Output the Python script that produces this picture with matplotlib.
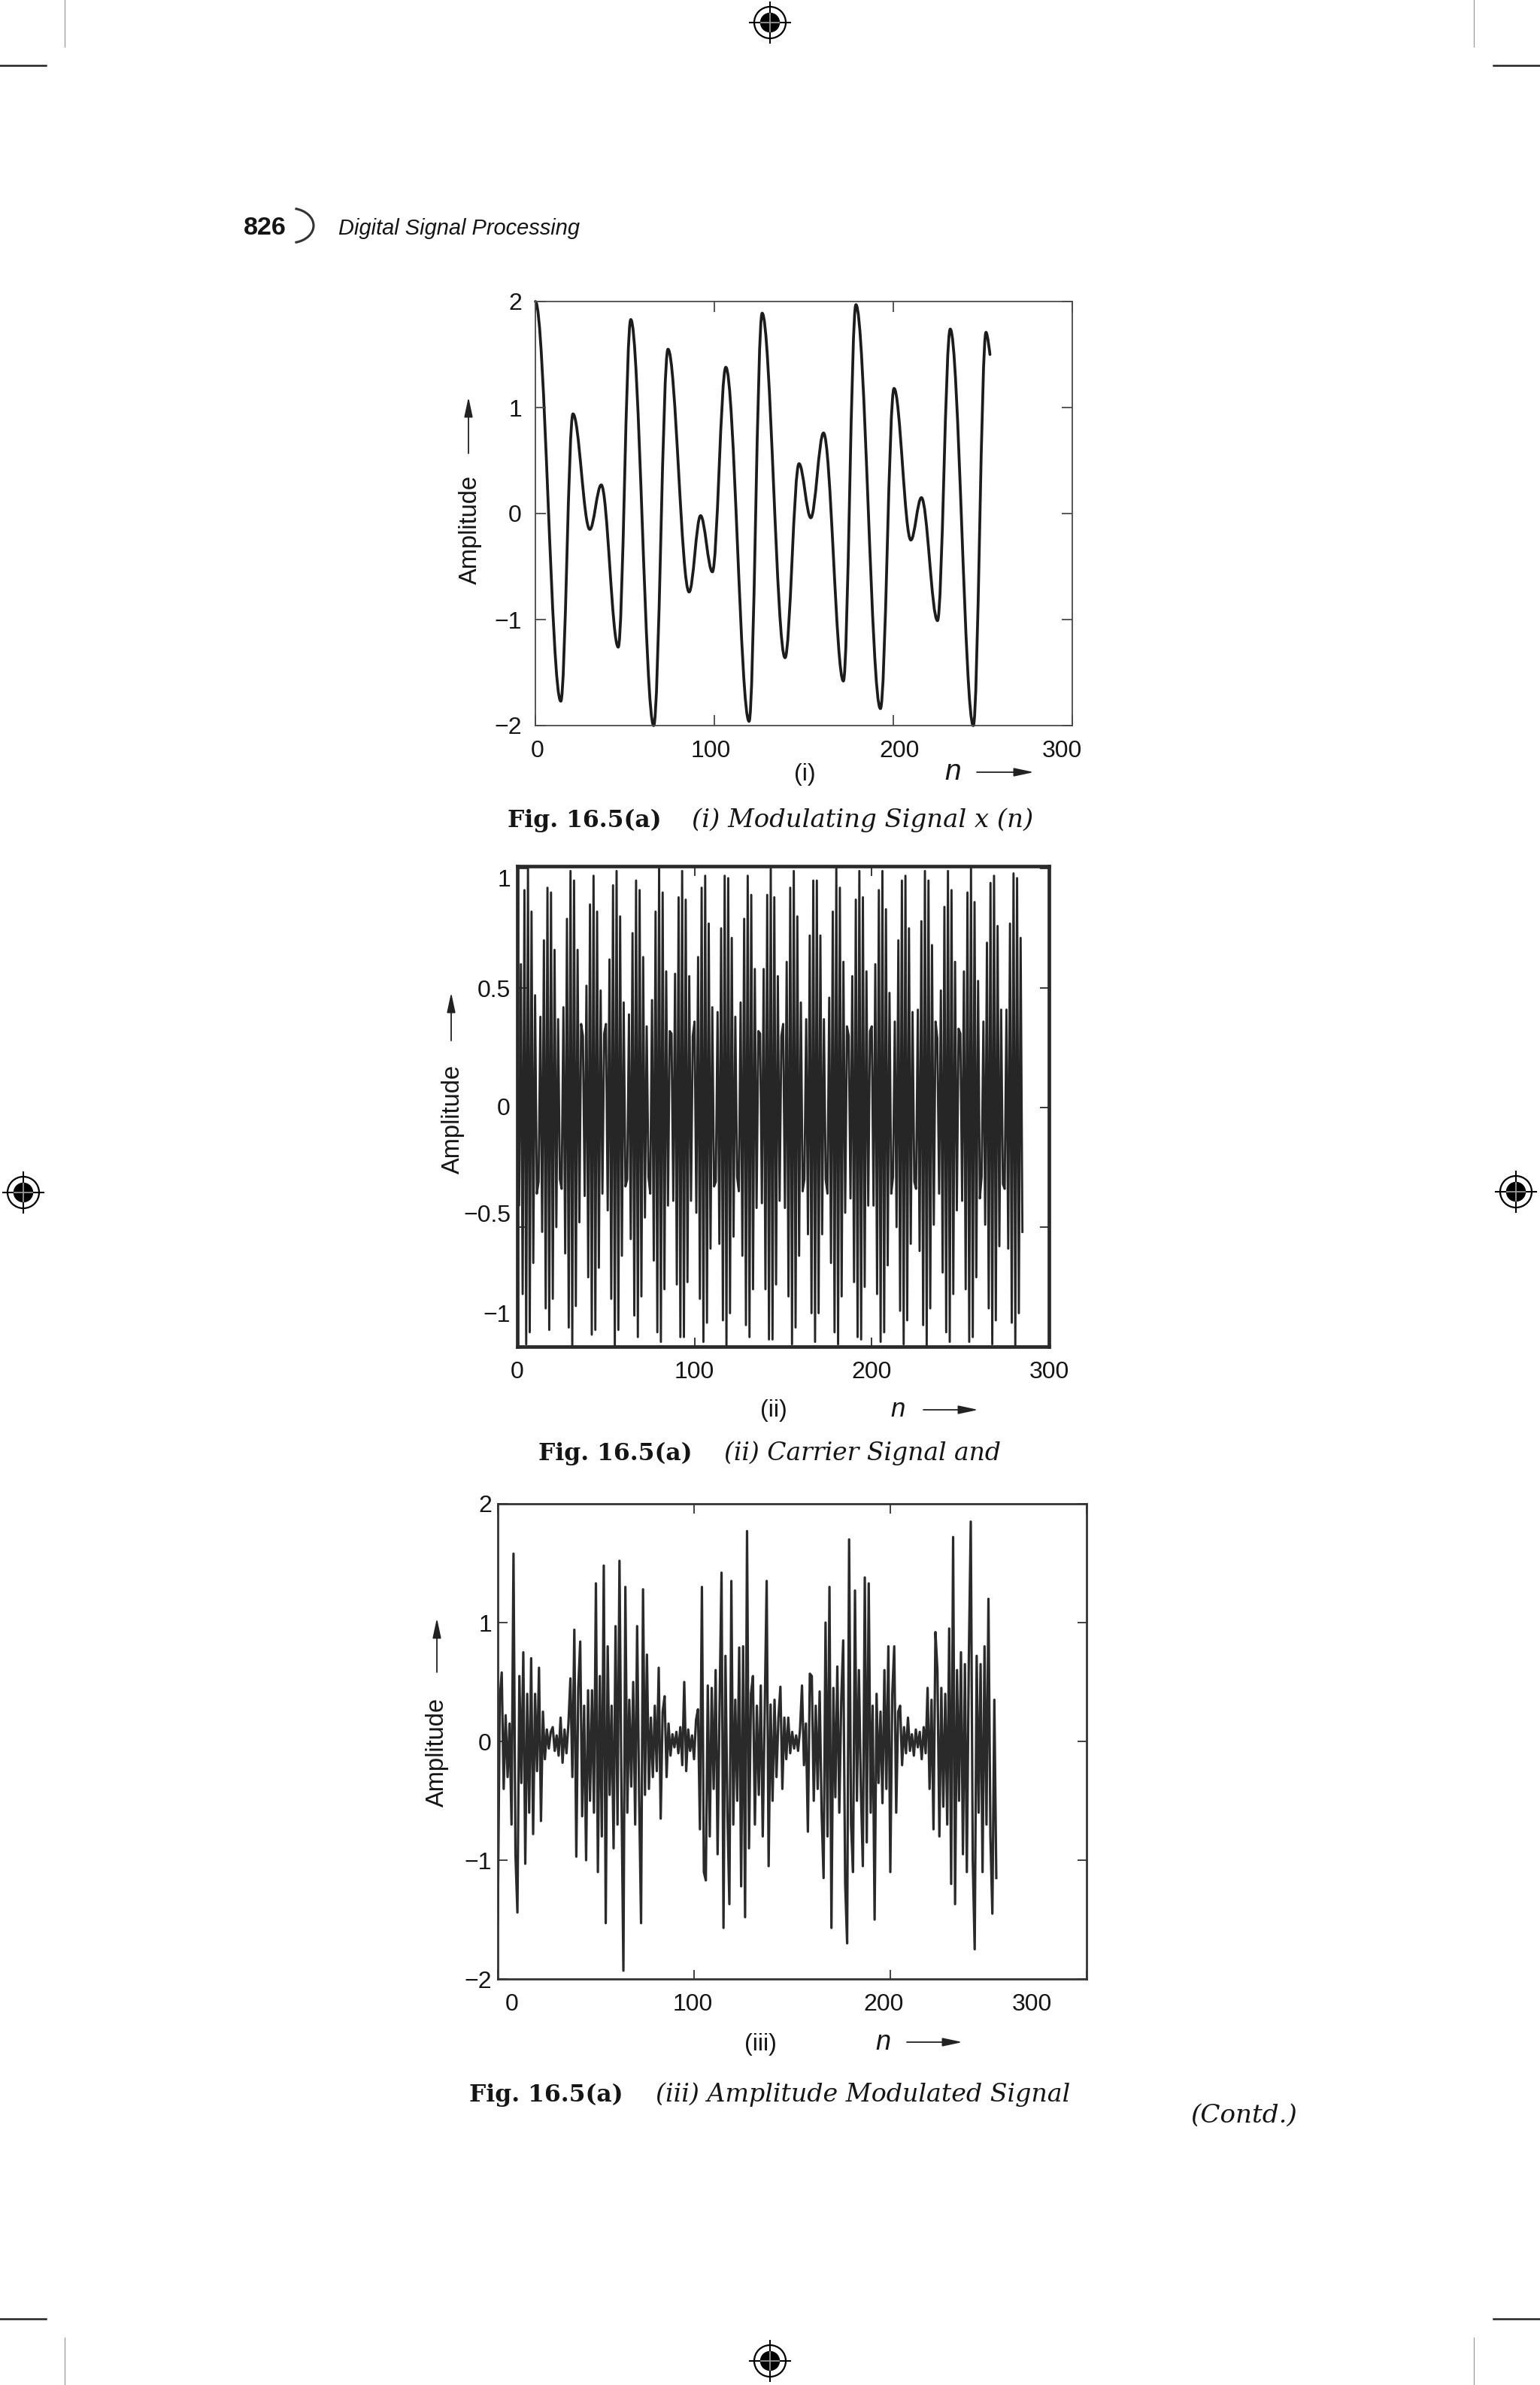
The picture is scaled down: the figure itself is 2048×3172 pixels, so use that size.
import numpy as np
import matplotlib
matplotlib.use("Agg")
import matplotlib.pyplot as plt
from matplotlib.path import Path
from matplotlib.patches import PathPatch, Circle, Arc, FancyArrowPatch
from matplotlib.lines import Line2D
from matplotlib.transforms import ScaledTranslation

plt.rcParams['font.family'] = ['Liberation Sans', 'DejaVu Sans']

W, H = 2048, 3172
DPI = 100

# ------------------------------------------------------------------ data
# (i) modulating signal: extrema (n, amplitude)
mod_ext_n = [0, 14.2, 21.0, 30.4, 36.8, 46.3, 53.3, 66.1, 74.1, 85.9, 92.3, 98.9,
             106.4, 119.4, 126.7, 139.5, 147.3, 153.9, 161.0, 172.1, 179.1, 192.8,
             200.4, 209.8, 215.7, 224.7, 231.8, 244.7, 251.8, 254.0]
mod_ext_amp = [2.0, -1.77, 0.94, -0.15, 0.27, -1.26, 1.83, -2.0, 1.55, -0.74, -0.02, -0.55,
               1.38, -1.96, 1.89, -1.36, 0.47, -0.04, 0.76, -1.58, 1.97, -1.84,
               1.18, -0.25, 0.15, -1.01, 1.74, -2.0, 1.71, 1.50]

# (ii) carrier signal samples, n = 0..285
carrier = [
    0.33, -0.41, 0.60, -0.78, 0.91, -0.99, 1.00, -0.94, 0.82, -0.65, 0.47, -0.36,
    -0.31, 0.38, -0.52, 0.70, -0.84, 0.92, -0.93, 0.90, -0.80, 0.66, -0.50, 0.37, -0.30,
    -0.34, 0.42, -0.61, 0.79, -0.92, 0.99, -1.00, 0.95, -0.83, 0.66, -0.48, 0.35,
    0.30, -0.37, 0.51, -0.71, 0.85, -0.95, 0.97, -0.93, 0.82, -0.67, 0.49, -0.36, 0.31,
    0.35, -0.43, 0.62, -0.80, 0.93, -1.00, 0.99, -0.93, 0.80, -0.62, 0.44, -0.33,
    -0.30, 0.39, -0.55, 0.73, -0.87, 0.95, -0.96, 0.91, -0.79, 0.63, -0.46, 0.34, -0.29,
    -0.36, 0.45, -0.64, 0.82, -0.94, 1.00, -0.98, 0.90, -0.76, 0.57, -0.41, 0.32,
    0.31, -0.39, 0.56, -0.74, 0.88, -0.96, 0.99, -0.96, 0.87, -0.73, 0.55, -0.39, 0.30,
    0.36, -0.44, 0.63, -0.80, 0.92, -0.98, 0.97, -0.90, 0.77, -0.59, 0.42, -0.33,
    -0.31, 0.40, -0.57, 0.75, -0.89, 0.97, -1.00, 0.96, -0.86, 0.71, -0.54, 0.38, -0.29,
    -0.35, 0.44, -0.62, 0.79, -0.91, 0.97, -0.96, 0.89, -0.76, 0.58, -0.42, 0.32,
    0.31, -0.40, 0.58, -0.76, 0.89, -0.97, 1.00, -0.97, 0.88, -0.74, 0.55, -0.39, 0.30,
    0.35, -0.42, 0.61, -0.79, 0.92, -0.99, 0.99, -0.92, 0.80, -0.62, 0.44, -0.35,
    -0.30, 0.37, -0.53, 0.72, -0.86, 0.95, -0.98, 0.95, -0.86, 0.72, -0.53, 0.37, -0.30,
    -0.36, 0.46, -0.65, 0.82, -0.94, 1.00, -0.99, 0.92, -0.79, 0.61, -0.44, 0.34,
    0.30, -0.38, 0.55, -0.73, 0.87, -0.96, 0.99, -0.97, 0.88, -0.75, 0.57, -0.41, 0.32,
    0.34, -0.41, 0.60, -0.78, 0.91, -0.98, 0.99, -0.94, 0.83, -0.66, 0.48, -0.36,
    -0.29, 0.36, -0.50, 0.70, -0.85, 0.95, -0.99, 0.97, -0.89, 0.75, -0.57, 0.40, -0.31,
    -0.34, 0.41, -0.60, 0.78, -0.91, 0.99, -1.00, 0.95, -0.84, 0.68, -0.49, 0.36,
    0.29, -0.36, 0.49, -0.69, 0.84, -0.94, 0.99, -0.98, 0.91, -0.78, 0.61, -0.43, 0.33,
    0.31, -0.39, 0.57, -0.76, 0.90, -0.98, 1.00, -0.96, 0.86, -0.71, 0.53, -0.38,
    -0.29, 0.36, -0.49, 0.69, -0.84, 0.94, -0.99, 0.97, -0.89, 0.76, -0.58, 0.41, -0.32,
    -0.34, 0.41, -0.59, 0.77, -0.90, 0.98, -1.00, 0.96, -0.86, 0.71, -0.52,
]

# (iii) amplitude modulated signal samples, n = 0..254
am_signal = [
    -1.50, 0.35, 0.58, -0.40, 0.22, -0.30, 0.15, -0.70, 1.58, -0.95, -1.44, 0.55, -0.35, 0.75, -1.03, 0.40,
    -0.60, 0.70, -0.78, 0.40, -0.25, 0.62, -0.67, 0.25, -0.15, 0.10, -0.06, 0.08, 0.12, -0.08, 0.05, -0.12,
    0.20, -0.18, 0.10, -0.10, 0.15, 0.53, -0.30, 0.94, -0.97, 0.45, 0.84, -0.63, 0.30, -1.00, 0.43, -0.50,
    0.43, -0.60, 1.33, -1.10, 0.55, -0.80, 1.48, -1.53, 0.80, -0.45, 0.30, -0.90, 0.97, -0.70, 1.52, -0.40,
    -1.93, 1.30, -0.60, 0.35, -0.38, 0.50, -0.70, 0.97, -0.45, -1.53, 1.28, -0.45, 0.73, -0.40, 0.20, -0.30,
    0.30, -0.25, 0.62, -0.65, 0.25, 0.38, -0.30, 0.15, -0.12, 0.06, -0.05, 0.08, -0.10, 0.12, -0.20, 0.50,
    -0.25, 0.10, -0.08, 0.05, -0.15, 0.18, 0.27, -0.74, 1.30, -1.10, -1.17, 0.47, -0.80, 0.45, -0.40, 0.60,
    -0.95, 0.30, 1.42, -1.57, 0.72, -0.60, -1.37, 1.35, -0.70, 0.35, -0.50, 0.79, -1.22, 0.80, -1.48, 1.77,
    -0.90, 0.40, 0.55, -0.70, 0.30, -0.45, 0.47, -0.80, 0.25, 1.35, -1.05, 0.31, -0.50, 0.35, -0.30, 0.20,
    0.46, -0.40, 0.20, -0.15, 0.20, -0.10, 0.08, -0.06, 0.05, -0.08, 0.10, 0.47, -0.20, 0.15, -0.76, 0.57,
    0.55, -0.50, 0.30, -0.40, 0.42, -0.60, -1.15, 1.00, -0.80, 1.30, -1.57, 0.45, -0.47, 0.63, -0.60, 0.35,
    0.85, -1.20, -1.70, 1.70, -0.70, -1.10, 1.27, -0.50, 0.60, -0.40, -1.05, 1.38, -0.85, 1.33, -0.60, 0.30,
    -1.50, 0.40, -0.35, 0.25, -0.52, 0.60, -0.40, 0.80, -1.10, 0.40, 0.80, -0.60, 0.25, 0.30, -0.20, 0.12,
    -0.10, 0.20, -0.08, 0.06, -0.12, 0.10, -0.05, 0.08, -0.15, 0.12, -0.10, 0.45, -0.40, 0.35, -0.74, 0.92,
    0.60, -0.80, 0.45, -0.55, 0.40, -0.70, 0.95, -1.20, 1.72, -1.37, 0.60, -0.50, 0.75, -0.95, 0.65, -1.10,
    0.70, 1.85, -1.00, -1.75, 0.72, -0.60, 0.65, -1.10, 0.80, -0.70, 1.20, -0.80, -1.45, 0.35, -1.15,
]

x_ticks = [0, 100, 200, 300]
x_ticklabels = ['0', '100', '200', '300']
mod_yticks = [-2, -1, 0, 1, 2]
mod_yticklabels = ['\u22122', '\u22121', '0', '1', '2']
car_yticks = [-1, -0.5, 0, 0.5, 1]
car_yticklabels = ['\u22121', '\u22120.5', '0', '0.5', '1']
am_yticks = [-2, -1, 0, 1, 2]
am_yticklabels = ['\u22122', '\u22121', '0', '1', '2']

page_number = '826'
running_head = 'Digital Signal Processing'
fig_no = 'Fig. 16.5(a)'
cap_i = '(i) Modulating Signal x (n)'
cap_ii = '(ii) Carrier Signal and'
cap_iii = '(iii) Amplitude Modulated Signal'
contd = '(Contd.)'

# ------------------------------------------------------------------ figure
fig = plt.figure(figsize=(W / DPI, H / DPI), dpi=DPI)
fig.patch.set_facecolor('white')

deco = fig.add_axes([0, 0, 1, 1])
deco.set_xlim(0, W)
deco.set_ylim(H, 0)
deco.axis('off')
deco.patch.set_alpha(0)

renderer = fig.canvas.get_renderer()
TXT = '#151515'


def fit_text(x, y, s, width, size0, **kw):
    t = deco.text(x, y, s, fontsize=size0, ha='left', va='baseline', color=TXT, **kw)
    w = t.get_window_extent(renderer).width
    t.set_fontsize(size0 * width / w)
    return t


def arrow(x0, y0, x1, y1):
    a = FancyArrowPatch((x0, y0), (x1, y1),
                        arrowstyle='-|>,head_length=0.8,head_width=0.17',
                        mutation_scale=20, lw=1.3, color='#222222',
                        shrinkA=0, shrinkB=0)
    deco.add_patch(a)


def target(cx, cy):
    deco.add_line(Line2D([cx - 27, cx + 27], [cy, cy], lw=1.5, color='black', zorder=2))
    deco.add_line(Line2D([cx, cx], [cy - 27, cy + 27], lw=1.5, color='black', zorder=2))
    deco.add_patch(Circle((cx, cy), 21, fill=False, lw=1.6, ec='black', zorder=3))
    deco.add_patch(Circle((cx, cy), 12.5, color='black', zorder=3))
    deco.add_line(Line2D([cx - 12, cx + 12], [cy, cy], lw=1.2, color='#a0a0a0', zorder=4))
    deco.add_line(Line2D([cx, cx], [cy - 12, cy + 12], lw=1.2, color='#a0a0a0', zorder=4))


def shift(labels, offsets):
    for lab, (dx, dy) in zip(labels, offsets):
        lab.set_transform(lab.get_transform() +
                          ScaledTranslation(dx / DPI, -dy / DPI, fig.dpi_scale_trans))


def make_axes(box, frame_lw, frame_color, tick_len, xpad, ypad):
    x0, y0, x1, y1 = box
    ax = fig.add_axes([x0 / W, 1 - y1 / H, (x1 - x0) / W, (y1 - y0) / H])
    for sp in ax.spines.values():
        sp.set_linewidth(frame_lw)
        sp.set_color(frame_color)
    ax.tick_params(direction='in', top=True, right=True, length=tick_len, width=1.3,
                   color=frame_color, labelcolor=TXT, labelsize=23)
    ax.tick_params(axis='x', pad=xpad)
    ax.tick_params(axis='y', pad=ypad)
    ax.patch.set_alpha(0)
    return ax


# ---- crop marks & registration targets
for yy in (87, 3084):
    deco.add_line(Line2D([0, 61], [yy, yy], lw=1.8, color='#222222'))
    deco.add_line(Line2D([1986, 2048], [yy, yy], lw=1.8, color='#222222'))
for xx in (86, 1960):
    deco.add_line(Line2D([xx, xx], [0, 62], lw=0.9, color='#999999'))
    deco.add_line(Line2D([xx, xx], [3109, 3172], lw=0.9, color='#999999'))
target(1024, 30)
target(1024, 3140)
target(31, 1586)
target(2016, 1585)

# ---- running head
fit_text(324, 312, page_number, 57, 24, fontweight='bold')
deco.add_patch(Arc((386, 300), 62, 46, theta1=-74, theta2=74, lw=2.2, color='#333333'))
fit_text(450, 312, running_head, 321, 21, style='italic')

# ------------------------------------------------------------------ plot (i)
ax1 = make_axes((712, 401, 1426, 965), 1.3, '#4a4a4a', 10, 13.4, 13.0)
verts = [(mod_ext_n[0], mod_ext_amp[0])]
codes = [Path.MOVETO]
last = len(mod_ext_n) - 2
for i in range(len(mod_ext_n) - 1):
    xa, ya = mod_ext_n[i], mod_ext_amp[i]
    xb, yb = mod_ext_n[i + 1], mod_ext_amp[i + 1]
    d = (xb - xa) * 0.36
    c2 = (xb - d, yb) if i < last else (xb, yb)
    verts += [(xa + d, ya), c2, (xb, yb)]
    codes += [Path.CURVE4] * 3
ax1.add_patch(PathPatch(Path(verts, codes), fill=False, lw=2.7, ec='#1c1c1c',
                        capstyle='round', joinstyle='round', clip_on=False))
ax1.set_xlim(0, 300)
ax1.set_ylim(-2, 2)
ax1.set_xticks(x_ticks, x_ticklabels)
ax1.set_yticks(mod_yticks, mod_yticklabels)
shift(ax1.get_xticklabels(), [(3, 0), (-5, 0), (8, 0), (-14, 0)])

deco.text(625, 704, 'Amplitude', rotation=90, ha='center', va='center', fontsize=23.5, color=TXT)
arrow(623, 603, 623, 528)
deco.text(1070, 1030, '(i)', ha='center', va='center', fontsize=23, color=TXT)
deco.text(1267, 1037, 'n', ha='center', va='baseline', fontsize=28, style='italic', color=TXT)
arrow(1299, 1027, 1375, 1027)
fit_text(675, 1100, fig_no, 205, 24, family='DejaVu Serif', fontweight='bold')
fit_text(920, 1100, cap_i, 455, 24, family='DejaVu Serif', style='italic')

# ------------------------------------------------------------------ plot (ii)
ax2 = make_axes((688, 1152, 1395, 1791), 3.4, '#2a2a2a', 9, 14.0, 6.5)
ax2.plot(np.arange(len(carrier)), carrier, lw=2.1, color='#262626')
ax2.set_xlim(0, 300)
ax2.set_ylim(-1.0, 1.01)
ax2.set_xticks(x_ticks, x_ticklabels)
ax2.set_yticks(car_yticks, car_yticklabels)
shift(ax2.get_yticklabels(), [(0, -44), (0, -19), (0, -2), (0, 0), (0, 12)])

deco.text(602, 1488, 'Amplitude', rotation=90, ha='center', va='center', fontsize=23.5, color=TXT)
arrow(600, 1384, 600, 1320)
deco.text(1029, 1876, '(ii)', ha='center', va='center', fontsize=23, color=TXT)
deco.text(1194, 1884, 'n', ha='center', va='baseline', fontsize=25, style='italic', color=TXT)
arrow(1228, 1875, 1301, 1875)
fit_text(716, 1942, fig_no, 205, 24, family='DejaVu Serif', fontweight='bold')
fit_text(963, 1942, cap_ii, 369, 24, family='DejaVu Serif', style='italic')

# ------------------------------------------------------------------ plot (iii)
ax3 = make_axes((662, 2000, 1445, 2632), 2.0, '#333333', 9, 13.7, 5.8)
ax3.plot(np.arange(len(am_signal)), am_signal, lw=2.3, color='#2a2a2a')
ax3.set_xlim(0, 300)
ax3.set_ylim(-2, 2)
ax3.set_xticks(x_ticks, x_ticklabels)
ax3.set_yticks(am_yticks, am_yticklabels)
shift(ax3.get_xticklabels(), [(19, 0), (-2, 0), (-9, 0), (-73, 0)])

deco.text(581, 2330, 'Amplitude', rotation=90, ha='center', va='center', fontsize=23.5, color=TXT)
arrow(581, 2224, 581, 2152)
deco.text(1011, 2719, '(iii)', ha='center', va='center', fontsize=23, color=TXT)
deco.text(1174, 2726, 'n', ha='center', va='baseline', fontsize=26, style='italic', color=TXT)
arrow(1206, 2716, 1280, 2716)
fit_text(624, 2795, fig_no, 205, 24, family='DejaVu Serif', fontweight='bold')
fit_text(872, 2795, cap_iii, 551, 24, family='DejaVu Serif', style='italic')
fit_text(1583, 2823, contd, 142, 24, family='DejaVu Serif', style='italic')

fig.savefig('out.png', dpi=DPI, facecolor='white')
